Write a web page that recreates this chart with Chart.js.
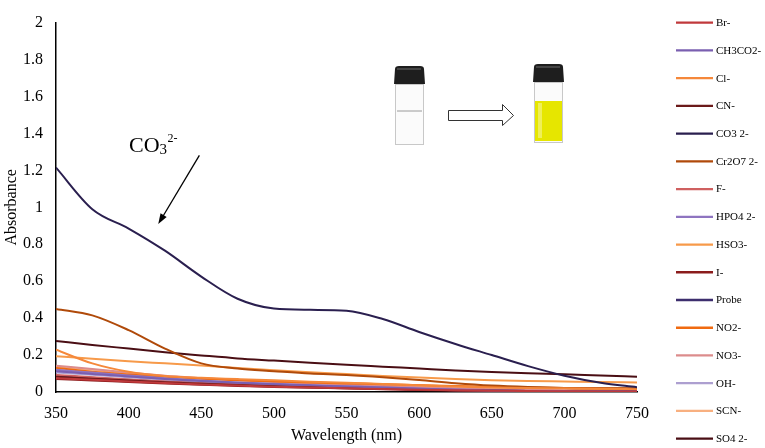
<!DOCTYPE html>
<html>
<head>
<meta charset="utf-8">
<script src="https://cdn.jsdelivr.net/npm/chart.js@4.4.1/dist/chart.umd.min.js"></script>
<style>
  body { margin: 0; background: #fff; }
  #wrap { width: 765px; height: 448px; }
</style>
</head>
<body>
<div id="wrap"><canvas id="chart1" width="765" height="448"></canvas></div>
<script>
// wavelengths (nm) where the curves are read
var wavelengths = [350, 375, 400, 425, 450, 475, 500, 525, 550, 575, 600, 625, 650, 675, 700, 725, 750];

// tick labels
var xTickValues = [350, 400, 450, 500, 550, 600, 650, 700, 750];
var yTickValues = [0, 0.2, 0.4, 0.6, 0.8, 1, 1.2, 1.4, 1.6, 1.8, 2];
var yTickLabels = ['0', '0.2', '0.4', '0.6', '0.8', '1', '1.2', '1.4', '1.6', '1.8', '2'];

// absorbance of each anion
var br     = [0.075, 0.066, 0.057, 0.049, 0.041, 0.035, 0.029, 0.024, 0.020, 0.016, 0.012, 0.009, 0.007, 0.005, 0.004, 0.003, 0.003];
var ch3co2 = [0.112, 0.098, 0.084, 0.070, 0.059, 0.050, 0.042, 0.036, 0.030, 0.024, 0.018, 0.012, 0.008, 0.006, 0.005, 0.004, 0.003];
var cl     = [0.229, 0.155, 0.110, 0.087, 0.077, 0.070, 0.063, 0.056, 0.050, 0.043, 0.036, 0.030, 0.025, 0.022, 0.020, 0.018, 0.015];
var cn     = [0.082, 0.072, 0.062, 0.053, 0.045, 0.038, 0.032, 0.027, 0.022, 0.018, 0.014, 0.010, 0.008, 0.006, 0.005, 0.004, 0.004];
var co3    = [1.215, 0.99, 0.885, 0.765, 0.625, 0.505, 0.452, 0.445, 0.44, 0.395, 0.325, 0.26, 0.20, 0.14, 0.088, 0.05, 0.026];
var cr2o7  = [0.45, 0.415, 0.335, 0.235, 0.155, 0.127, 0.113, 0.100, 0.092, 0.080, 0.065, 0.048, 0.035, 0.027, 0.022, 0.020, 0.020];
var fl     = [0.092, 0.080, 0.068, 0.057, 0.048, 0.040, 0.034, 0.029, 0.024, 0.019, 0.015, 0.011, 0.008, 0.006, 0.005, 0.004, 0.004];
var hpo4   = [0.120, 0.105, 0.090, 0.075, 0.062, 0.052, 0.044, 0.037, 0.031, 0.025, 0.019, 0.013, 0.009, 0.006, 0.004, 0.003, 0.002];
var hso3   = [0.194, 0.180, 0.167, 0.155, 0.143, 0.130, 0.118, 0.107, 0.097, 0.087, 0.078, 0.070, 0.064, 0.060, 0.057, 0.054, 0.052];
var iodide = [0.070, 0.062, 0.054, 0.046, 0.039, 0.033, 0.027, 0.023, 0.019, 0.015, 0.011, 0.008, 0.006, 0.005, 0.004, 0.003, 0.003];
var probe  = [0.088, 0.077, 0.066, 0.056, 0.047, 0.039, 0.033, 0.028, 0.023, 0.018, 0.014, 0.010, 0.007, 0.005, 0.004, 0.003, 0.003];
var no2    = [0.130, 0.110, 0.095, 0.082, 0.072, 0.064, 0.057, 0.051, 0.046, 0.042, 0.037, 0.032, 0.028, 0.025, 0.022, 0.020, 0.018];
var no3    = [0.142, 0.125, 0.105, 0.088, 0.075, 0.063, 0.054, 0.047, 0.040, 0.033, 0.026, 0.020, 0.015, 0.012, 0.010, 0.008, 0.007];
var oh     = [0.105, 0.093, 0.080, 0.068, 0.057, 0.048, 0.040, 0.034, 0.028, 0.022, 0.016, 0.010, 0.007, 0.005, 0.004, 0.003, 0.002];
var scn    = [0.135, 0.120, 0.100, 0.085, 0.075, 0.065, 0.058, 0.052, 0.047, 0.042, 0.036, 0.030, 0.025, 0.020, 0.017, 0.015, 0.013];
var so4    = [0.276, 0.255, 0.235, 0.215, 0.198, 0.182, 0.170, 0.158, 0.147, 0.137, 0.127, 0.117, 0.108, 0.101, 0.096, 0.089, 0.083];

var seriesNames  = ['Br-', 'CH3CO2-', 'Cl-', 'CN-', 'CO3 2-', 'Cr2O7 2-', 'F-', 'HPO4 2-', 'HSO3-', 'I-', 'Probe', 'NO2-', 'NO3-', 'OH-', 'SCN-', 'SO4 2-'];
var seriesValues = [br, ch3co2, cl, cn, co3, cr2o7, fl, hpo4, hso3, iodide, probe, no2, no3, oh, scn, so4];
var seriesColors = ['#c0393b', '#7a5fb0', '#f5883a', '#6b1a1a', '#2a1f4f', '#b04a0a', '#cf6060', '#8e74c0',
                    '#f79a4a', '#8b1c1c', '#3d2e6e', '#f06a10', '#dc8c8c', '#ad9fd0', '#f8b080', '#4a0e14'];

var datasets = seriesNames.map(function (name, k) {
  return {
    label: name,
    data: seriesValues[k].map(function (v, i) { return { x: wavelengths[i], y: v }; }),
    borderColor: seriesColors[k],
    backgroundColor: seriesColors[k],
    borderWidth: 2,
    pointRadius: 0,
    cubicInterpolationMode: 'monotone',
    order: k === 4 ? 0 : 1
  };
});

var serif = '"Liberation Serif", "Times New Roman", serif';

// legend on the right, one line per series
var sideLegend = {
  id: 'sideLegend',
  afterDraw: function (chart) {
    var ctx = chart.ctx;
    ctx.save();
    ctx.font = '11px ' + serif;
    ctx.textBaseline = 'middle';
    ctx.fillStyle = '#000';
    chart.data.datasets.forEach(function (ds, i) {
      var y = 22.7 + i * 27.73;
      ctx.strokeStyle = ds.borderColor;
      ctx.lineWidth = 2.3;
      ctx.beginPath();
      ctx.moveTo(676, y);
      ctx.lineTo(713, y);
      ctx.stroke();
      ctx.fillText(ds.label, 716, y + 0.5);
    });
    ctx.restore();
  }
};

function drawVial(ctx, x, top, liquidTop, liquidColor) {
  // glass body
  ctx.fillStyle = '#fbfbfb';
  ctx.lineWidth = 1;
  ctx.fillRect(x + 2, top + 18, 29, 61);
  if (liquidColor) {
    ctx.fillStyle = liquidColor;
    ctx.fillRect(x + 3, liquidTop, 27, top + 77 - liquidTop);
    ctx.fillStyle = 'rgba(255,255,255,0.35)';
    ctx.fillRect(x + 6, liquidTop + 2, 4, top + 72 - liquidTop);
  } else {
    ctx.strokeStyle = '#9a9a9a';
    ctx.beginPath();
    ctx.moveTo(x + 4, liquidTop);
    ctx.lineTo(x + 29, liquidTop);
    ctx.stroke();
  }
  ctx.strokeStyle = '#c8c8c8';
  ctx.strokeRect(x + 2.5, top + 18.5, 28, 60);
  // black cap
  ctx.fillStyle = '#1e1e1e';
  ctx.beginPath();
  ctx.moveTo(x + 2, top + 3);
  ctx.quadraticCurveTo(x + 2, top, x + 6, top);
  ctx.lineTo(x + 27, top);
  ctx.quadraticCurveTo(x + 31, top, x + 31, top + 3);
  ctx.lineTo(x + 32, top + 18);
  ctx.lineTo(x + 1, top + 18);
  ctx.closePath();
  ctx.fill();
  ctx.fillStyle = '#444';
  ctx.fillRect(x + 4, top + 2, 24, 2);
}

// CO3 2- callout and the vial picture
var callout = {
  id: 'callout',
  afterDraw: function (chart) {
    var ctx = chart.ctx;
    var xs = chart.scales.x, ys = chart.scales.y;
    ctx.save();
    // arrow to the carbonate curve
    var x0 = xs.getPixelForValue(448.7), y0 = ys.getPixelForValue(1.281);
    var x1 = xs.getPixelForValue(420.4), y1 = ys.getPixelForValue(0.909);
    var ang = Math.atan2(y1 - y0, x1 - x0);
    ctx.strokeStyle = '#000';
    ctx.lineWidth = 1.3;
    ctx.beginPath();
    ctx.moveTo(x0, y0);
    ctx.lineTo(x1 - 8 * Math.cos(ang), y1 - 8 * Math.sin(ang));
    ctx.stroke();
    ctx.fillStyle = '#000';
    ctx.beginPath();
    ctx.moveTo(x1, y1);
    ctx.lineTo(x1 - 11 * Math.cos(ang - 0.33), y1 - 11 * Math.sin(ang - 0.33));
    ctx.lineTo(x1 - 11 * Math.cos(ang + 0.33), y1 - 11 * Math.sin(ang + 0.33));
    ctx.closePath();
    ctx.fill();

    // label CO3 2-
    ctx.textBaseline = 'alphabetic';
    ctx.font = '22px ' + serif;
    ctx.fillText('CO', 129, 152);
    var w = ctx.measureText('CO').width;
    ctx.font = '15px ' + serif;
    ctx.fillText('3', 129 + w, 154);
    ctx.font = '12px ' + serif;
    ctx.fillText('2-', 129 + w + 8, 142);

    // vials and hollow arrow
    drawVial(ctx, 393, 66, 111, null);
    drawVial(ctx, 532, 64, 101, '#e6e600');
    ctx.strokeStyle = '#333';
    ctx.lineWidth = 1;
    ctx.fillStyle = '#fff';
    ctx.beginPath();
    ctx.moveTo(448.5, 110.5);
    ctx.lineTo(502.5, 110.5);
    ctx.lineTo(502.5, 104.5);
    ctx.lineTo(513.5, 115.5);
    ctx.lineTo(502.5, 125.5);
    ctx.lineTo(502.5, 120.5);
    ctx.lineTo(448.5, 120.5);
    ctx.closePath();
    ctx.fill();
    ctx.stroke();
    ctx.restore();
  }
};

var ctx1 = document.getElementById('chart1').getContext('2d');
var chart1 = new Chart(ctx1, {
  type: 'line',
  data: { datasets: datasets },
  options: {
    responsive: false,
    animation: false,
    layout: { padding: { top: 10, right: 128, left: 0, bottom: 0 } },
    plugins: {
      legend: { display: false },
      tooltip: { enabled: false }
    },
    scales: {
      x: {
        type: 'linear',
        min: 350,
        max: 750,
        afterBuildTicks: function (s) { s.ticks = xTickValues.map(function (v) { return { value: v }; }); },
        afterFit: function (s) { s.height = 56; },
        grid: { display: false, drawTicks: false },
        border: { display: true, color: '#000', width: 1.5 },
        ticks: { color: '#000', font: { family: serif, size: 16 }, padding: 12, maxRotation: 0 },
        title: { display: true, text: 'Wavelength (nm)', color: '#000', font: { family: serif, size: 16 }, padding: { top: 0, bottom: 3 } }
      },
      y: {
        min: 0,
        max: 2,
        afterBuildTicks: function (s) { s.ticks = yTickValues.map(function (v) { return { value: v }; }); },
        afterFit: function (s) { s.width = 56; },
        grid: { display: false, drawTicks: false },
        border: { display: true, color: '#000', width: 1.5 },
        ticks: {
          color: '#000',
          font: { family: serif, size: 16 },
          padding: 13,
          callback: function (v, i) { return yTickLabels[i]; }
        },
        title: { display: true, text: 'Absorbance', color: '#000', font: { family: serif, size: 16 }, padding: { top: 2, bottom: 0 } }
      }
    }
  },
  plugins: [sideLegend, callout]
});
</script>
</body>
</html>
